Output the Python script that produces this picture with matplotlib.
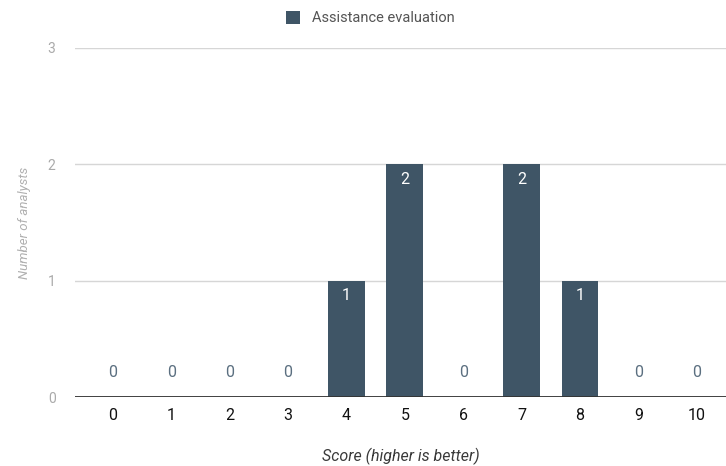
import matplotlib.pyplot as plt

plt.rcParams.update({
    "font.family": ["Roboto", "DejaVu Sans"],
    "font.size": 11,
})

BAR, GRID = "#3f5566", "#d6d6d6"

scores = list(range(11))
counts = [0, 0, 0, 0, 1, 2, 0, 2, 1, 0, 0]
yticks = [0, 1, 2, 3]

fig = plt.figure(figsize=(7.26, 4.66), dpi=100)
ax = fig.add_axes([0.1033, 0.148, 0.8967, 0.749])

bars = ax.bar(scores, counts, width=0.63, color=BAR, zorder=3,
              label="Assistance evaluation")

# value labels: white inside tall bars, slate above zero bars
for x, v in zip(scores, counts):
    if v > 0:
        ax.annotate(str(v), (x, v), xytext=(0, -11), textcoords="offset points",
                    ha="center", va="center", color="white", fontsize=11.5)
    else:
        ax.annotate(str(v), (x, 0), xytext=(0, 18), textcoords="offset points",
                    ha="center", va="center", color="#5b6f80", fontsize=11.5)

ax.set_xlim(-0.65, 10.5)
ax.set_ylim(0, 3)
ax.set_xticks(scores)
ax.set_yticks(yticks)
ax.grid(axis="y", color=GRID, lw=1, zorder=0)
ax.axhline(0, color="#333333", lw=1.3, zorder=4)
for s in ax.spines.values():
    s.set_visible(False)
ax.tick_params(axis="x", length=0, pad=8, labelsize=11.5, labelcolor="#111111")
ax.tick_params(axis="y", length=0, pad=14, labelsize=10, labelcolor="#aaaaaa")

ax.set_xlabel("Score (higher is better)", style="italic", color="#3a3a3a",
              fontsize=11.5, labelpad=18)
ax.set_ylabel("Number of analysts", style="italic", color="#b0b0b0",
              fontsize=9.5, labelpad=12)

fig.legend(handles=[bars], labels=["Assistance evaluation"], loc="upper center",
           bbox_to_anchor=(0.51, 1.005), frameon=False, fontsize=10.5,
           handlelength=1.0, handleheight=1.0, labelcolor="#555555")

fig.savefig("out.png", dpi=100)
